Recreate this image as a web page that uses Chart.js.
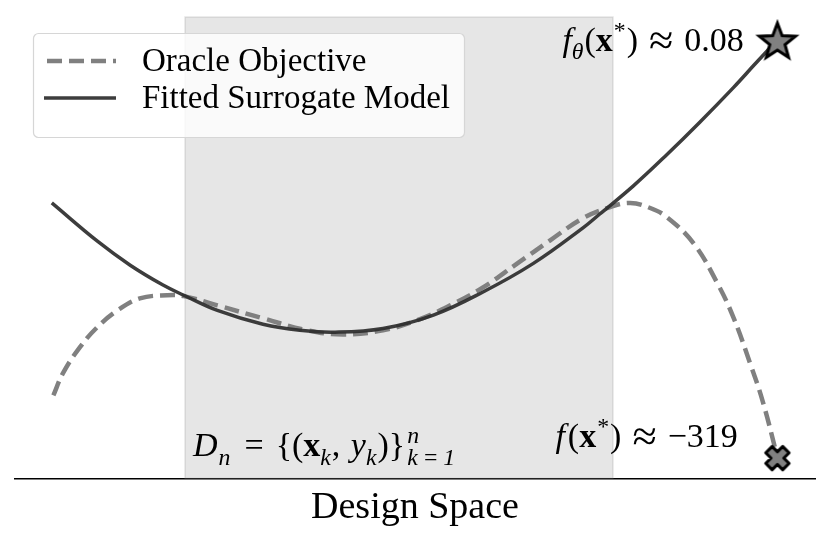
<!DOCTYPE html>
<html>
<head>
<meta charset="utf-8">
<script src="https://cdn.jsdelivr.net/npm/chart.js@4/dist/chart.umd.min.js"></script>
<style>
  body { margin: 0; background: #fff; }
  canvas { display: block; }
</style>
</head>
<body>
<canvas id="surrogateChart" width="831" height="540"></canvas>
<script>
// design space runs 0..10, objective 0..10 (arbitrary units)
const oracleX = [0.48, 0.60, 0.81, 1.03, 1.28, 1.56, 1.90, 2.11, 2.53, 3.10, 3.65, 4.10, 4.60, 5.03, 5.44, 5.85, 6.28, 6.69, 7.10, 7.44, 7.69, 7.94, 8.15, 8.48, 8.78, 8.98, 9.19, 9.35, 9.53];
const oracleY = [1.80, 2.28, 2.84, 3.28, 3.64, 3.90, 3.97, 3.95, 3.75, 3.47, 3.21, 3.12, 3.21, 3.43, 3.75, 4.14, 4.66, 5.16, 5.64, 5.88, 5.97, 5.86, 5.66, 5.10, 4.23, 3.49, 2.49, 1.65, 0.46];

const surrogateX = [0.46, 1.03, 1.44, 1.85, 2.11, 2.53, 3.10, 3.56, 4.00, 4.60, 5.23, 5.85, 6.48, 7.10, 7.31, 7.73, 8.15, 8.56, 8.98, 9.25, 9.53];
const surrogateY = [5.97, 5.14, 4.62, 4.19, 3.97, 3.64, 3.34, 3.21, 3.17, 3.25, 3.54, 4.04, 4.66, 5.43, 5.73, 6.34, 7.02, 7.72, 8.47, 8.98, 9.50];

// proposed design x* and the two values there
const optimumX = 9.53;
const surrogateAtOpt = 9.50;
const oracleAtOpt = 0.44;

// span of the offline dataset D_n
const dataRegion = [2.125, 7.475];

const seriesLabels = ["Oracle Objective", "Fitted Surrogate Model"];

const serif = '"Liberation Serif", "Times New Roman", serif';

function starMarker() {
  const c = document.createElement("canvas");
  c.width = 46; c.height = 46;
  const ctx = c.getContext("2d");
  const R = 19, r = 8;
  ctx.beginPath();
  for (let i = 0; i < 10; i++) {
    const a = -Math.PI / 2 + i * Math.PI / 5;
    const rad = i % 2 === 0 ? R : r;
    ctx.lineTo(23 + rad * Math.cos(a), 25 + rad * Math.sin(a));
  }
  ctx.closePath();
  ctx.fillStyle = "#808080";
  ctx.fill();
  ctx.lineWidth = 3;
  ctx.strokeStyle = "#000";
  ctx.stroke();
  return c;
}

function crossMarker() {
  const c = document.createElement("canvas");
  c.width = 34; c.height = 34;
  const ctx = c.getContext("2d");
  const w = 4.5, L = 12;
  const pts = [[-w, -L], [w, -L], [w, -w], [L, -w], [L, w], [w, w], [w, L], [-w, L], [-w, w], [-L, w], [-L, -w], [-w, -w]];
  ctx.translate(17, 17);
  ctx.rotate(Math.PI / 4);
  ctx.beginPath();
  pts.forEach(([x, y]) => ctx.lineTo(x, y));
  ctx.closePath();
  ctx.fillStyle = "#808080";
  ctx.fill();
  ctx.lineWidth = 3;
  ctx.lineJoin = "round";
  ctx.strokeStyle = "#000";
  ctx.stroke();
  return c;
}

// draws a run of math-like pieces: {t, style, sub, sup, stay, gap, scale, dy}
function drawMath(ctx, x, y, parts, size) {
  let cx = x;
  ctx.textBaseline = "alphabetic";
  ctx.textAlign = "left";
  ctx.fillStyle = "#000";
  parts.forEach((p) => {
    const s = (p.sub || p.sup ? size * 0.7 : size) * (p.scale || 1);
    ctx.font = `${p.style || ""} ${s}px ${serif}`;
    const dy = (p.sub ? size * 0.24 : p.sup ? -size * 0.38 : 0) + (p.dy || 0);
    ctx.fillText(p.t, cx, y + dy);
    if (!p.stay) cx += ctx.measureText(p.t).width + (p.gap || 0);
  });
}

const background = {
  id: "background",
  beforeDraw(chart) {
    const { ctx } = chart;
    ctx.save();
    ctx.fillStyle = "#fff";
    ctx.fillRect(0, 0, chart.width, chart.height);
    ctx.restore();
  },
};

const shadedRegion = {
  id: "shadedRegion",
  beforeDatasetsDraw(chart) {
    const { ctx, chartArea, scales } = chart;
    const x0 = scales.x.getPixelForValue(dataRegion[0]);
    const x1 = scales.x.getPixelForValue(dataRegion[1]);
    ctx.save();
    ctx.fillStyle = "rgba(128,128,128,0.2)";
    ctx.fillRect(x0, chartArea.top, x1 - x0, chartArea.bottom - chartArea.top);
    ctx.strokeStyle = "rgba(128,128,128,0.2)";
    ctx.lineWidth = 1.5;
    ctx.strokeRect(x0, chartArea.top, x1 - x0, chartArea.bottom - chartArea.top);
    ctx.restore();
  },
};

const annotations = {
  id: "annotations",
  afterDatasetsDraw(chart) {
    const { ctx, scales } = chart;
    const px = scales.x.getPixelForValue(optimumX);
    const top = scales.y.getPixelForValue(surrogateAtOpt);
    const bottom = scales.y.getPixelForValue(oracleAtOpt);
    ctx.save();
    drawMath(ctx, px - 215, top + 11, [
      { t: "f", style: "italic" },
      { t: "θ", style: "italic", sub: true, gap: 1 },
      { t: "(" },
      { t: "x", style: "bold", gap: 1 },
      { t: "*", sup: true, gap: 1 },
      { t: ")", gap: 11 },
      { t: "≈", scale: 1.3, dy: 4, gap: 11 },
      { t: "0.08" },
    ], 34);
    drawMath(ctx, px - 222, bottom - 11, [
      { t: "f", style: "italic", gap: 3 },
      { t: "(" },
      { t: "x", style: "bold", gap: 1 },
      { t: "*", sup: true, gap: 1 },
      { t: ")", gap: 11 },
      { t: "≈", scale: 1.3, dy: 4, gap: 11 },
      { t: "−319" },
    ], 34);
    const rx = scales.x.getPixelForValue(dataRegion[0]);
    drawMath(ctx, rx + 8, chart.chartArea.bottom - 22, [
      { t: "D", style: "italic", gap: 1 },
      { t: "n", style: "italic", sub: true, gap: 14 },
      { t: "=", gap: 12 },
      { t: "{(" },
      { t: "x", style: "bold" },
      { t: "k", style: "italic", sub: true, gap: 1 },
      { t: ", ", gap: 2 },
      { t: "y", style: "italic" },
      { t: "k", style: "italic", sub: true, gap: 1 },
      { t: ")}", gap: 2 },
      { t: "k\u2009=\u20091", style: "italic", sub: true, stay: true },
      { t: "n", style: "italic", sup: true },
    ], 34);
    ctx.restore();
  },
  afterDraw(chart) {
    // legend box over the axes, like matplotlib's upper left legend
    const { ctx } = chart;
    const ds = chart.data.datasets;
    ctx.save();
    ctx.beginPath();
    ctx.roundRect(33.5, 33.5, 431, 104, 5);
    ctx.fillStyle = "rgba(255,255,255,0.8)";
    ctx.fill();
    ctx.strokeStyle = "#d6d6d6";
    ctx.lineWidth = 1.2;
    ctx.stroke();
    const rows = [61, 98];
    [0, 1].forEach((i) => {
      ctx.beginPath();
      ctx.setLineDash(ds[i].borderDash || []);
      ctx.strokeStyle = ds[i].borderColor;
      ctx.lineWidth = ds[i].borderWidth;
      ctx.moveTo(i === 0 ? 47 : 44, rows[i]);
      ctx.lineTo(116, rows[i]);
      ctx.stroke();
      ctx.setLineDash([]);
      ctx.fillStyle = "#000";
      ctx.font = `33px ${serif}`;
      ctx.textBaseline = "middle";
      ctx.fillText(seriesLabels[i], 142, rows[i] + 1);
    });
    ctx.restore();
  },
};

new Chart(document.getElementById("surrogateChart"), {
  type: "line",
  data: {
    datasets: [
      {
        label: seriesLabels[0],
        data: oracleX.map((x, i) => ({ x, y: oracleY[i] })),
        borderColor: "#808080",
        borderWidth: 4.5,
        borderDash: [15, 7],
        pointRadius: 0,
        tension: 0.4,
        order: 3,
      },
      {
        label: seriesLabels[1],
        data: surrogateX.map((x, i) => ({ x, y: surrogateY[i] })),
        borderColor: "rgba(45,45,45,0.92)",
        borderWidth: 3.5,
        pointRadius: 0,
        tension: 0.4,
        order: 2,
      },
      {
        type: "scatter",
        data: [{ x: optimumX, y: surrogateAtOpt }],
        pointStyle: starMarker(),
        order: 0,
      },
      {
        type: "scatter",
        data: [{ x: optimumX, y: oracleAtOpt }],
        pointStyle: crossMarker(),
        order: 1,
      },
    ],
  },
  options: {
    responsive: false,
    animation: false,
    layout: { padding: { left: 15, right: 16, top: 17, bottom: 8 } },
    plugins: { legend: { display: false }, tooltip: { enabled: false } },
    scales: {
      x: {
        type: "linear",
        min: 0,
        max: 10,
        grid: { display: false, drawTicks: false },
        ticks: { display: false },
        border: { display: true, color: "#000", width: 1.5 },
        title: {
          display: true,
          text: "Design Space",
          color: "#000",
          font: { family: serif, size: 38 },
          padding: { top: 7, bottom: 1 },
        },
      },
      y: { display: false, min: 0, max: 10 },
    },
  },
  plugins: [background, shadedRegion, annotations],
});
</script>
</body>
</html>
